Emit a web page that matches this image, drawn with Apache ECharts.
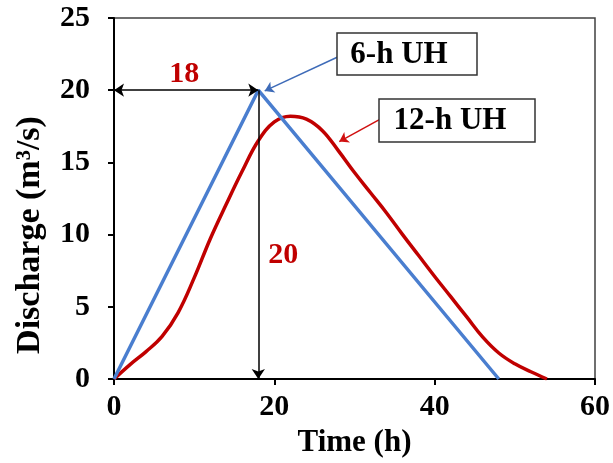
<!DOCTYPE html>
<html>

<head>
  <meta charset="utf-8" />
  <title>Unit hydrographs</title>
  <style>
    body { margin: 0; background-color: #ffffff; }
  </style>
  <script src="https://cdn.jsdelivr.net/npm/echarts@6/dist/echarts.min.js"></script>
</head>

<body>
  <div id="main" style="width: 613px;height:463px;"></div>
  <script type="text/javascript">
    // data (time in h, discharge in m3/s)
    var uh6 = [[0, 0], [18, 20], [48, 0]];
    var uh12 = [
      [0, 0], [2, 1.0], [4, 1.9], [6, 2.95], [8, 4.6], [10, 7.0], [12, 9.7],
      [14, 12.1], [16, 14.4], [18, 16.5], [20, 17.8], [22, 18.2], [24, 18.0],
      [26, 17.2], [28, 15.8], [30, 14.3], [32, 12.9], [34, 11.5], [36, 10.0],
      [38, 8.55], [40, 7.1], [42, 5.7], [44, 4.3], [46, 2.9], [48, 1.8],
      [50, 1.05], [52, 0.5], [54, 0]
    ];
    var xTicks = [0, 20, 40, 60];
    var yTicks = [0, 5, 10, 15, 20, 25];

    // annotation geometry (data space)
    var peakTime = 18, peakQ = 20;
    var arrow6 = [[27.9, 22.3], [18.8, 19.95]];
    var arrow12 = [[33.1, 17.96], [28.1, 16.44]];
    var label18 = [8.75, 21.1];
    var label20 = [21.1, 8.56];

    var font = 'Liberation Serif';
    var red = '#C00000';
    var blue = '#4A7ECF';

    var myChart = echarts.init(document.getElementById('main'));

    var option = {
      animation: false,
      grid: {
        left: 114, right: 18, top: 18, bottom: 83,
        show: true, borderColor: '#404040', borderWidth: 1.5
      },
      xAxis: {
        type: 'value',
        min: xTicks[0], max: xTicks[xTicks.length - 1], interval: 20,
        name: 'Time (h)', nameLocation: 'middle', nameGap: 48,
        nameTextStyle: { fontFamily: font, fontWeight: 'bold', fontSize: 31, color: '#000' },
        axisLine: { lineStyle: { color: '#000', width: 2 } },
        axisTick: { show: true, length: 6, lineStyle: { color: '#000', width: 2 } },
        axisLabel: { margin: 13, fontFamily: font, fontWeight: 'bold', fontSize: 30, color: '#000' },
        splitLine: { show: false }
      },
      yAxis: {
        type: 'value',
        min: yTicks[0], max: yTicks[yTicks.length - 1], interval: 5,
        axisLine: { show: true, lineStyle: { color: '#000', width: 2 } },
        axisTick: { show: true, length: 6, lineStyle: { color: '#000', width: 2 } },
        axisLabel: { margin: 24, fontFamily: font, fontWeight: 'bold', fontSize: 30, color: '#000' },
        splitLine: { show: false }
      },
      series: [{
        name: '6-h UH',
        type: 'line',
        data: uh6,
        showSymbol: false,
        lineStyle: { color: blue, width: 3.5 },
        z: 3,
        markLine: {
          silent: true,
          animation: false,
          label: { show: false },
          symbolSize: 10,
          data: [
            [{ coord: [0, peakQ], symbol: 'arrow' }, { coord: [peakTime, peakQ], symbol: 'arrow' }],
            [{ coord: [peakTime, peakQ], symbol: 'none' }, { coord: [peakTime, 0], symbol: 'arrow' }],
            [{ coord: arrow6[0], symbol: 'none', lineStyle: { color: '#3E6BB8', width: 1.5 } },
             { coord: arrow6[1], symbol: 'arrow', symbolSize: 9 }]
          ],
          lineStyle: { color: '#000', width: 1.5, type: 'solid' }
        },
        markPoint: {
          silent: true,
          symbolSize: 0,
          data: [
            { coord: label18, value: '18' },
            { coord: label20, value: '20' }
          ],
          label: {
            show: true, position: 'inside', color: red,
            fontFamily: font, fontWeight: 'bold', fontSize: 30,
            formatter: function (p) { return p.value; }
          }
        }
      }, {
        name: '12-h UH',
        type: 'line',
        data: uh12,
        smooth: 0.4,
        showSymbol: false,
        lineStyle: { color: red, width: 3.5 },
        z: 2,
        markLine: {
          silent: true,
          animation: false,
          label: { show: false },
          symbolSize: 9,
          data: [
            [{ coord: arrow12[0], symbol: 'none' }, { coord: arrow12[1], symbol: 'arrow' }]
          ],
          lineStyle: { color: '#D01010', width: 1.5, type: 'solid' }
        }
      }],
      graphic: [
        {
          type: 'text', x: 30, y: 235, rotation: Math.PI / 2,
          style: {
            text: 'Discharge (m³/s)', fontFamily: font, fontWeight: 'bold', fontSize: 34,
            fill: '#000', align: 'center', verticalAlign: 'middle'
          }
        },
        {
          type: 'rect', shape: { x: 337, y: 33, width: 140, height: 42 },
          style: { fill: '#fff', stroke: '#333', lineWidth: 1.5 }, z: 10
        },
        {
          type: 'text', x: 399, y: 55, z: 11,
          style: {
            text: '6-h UH', fontFamily: font, fontWeight: 'bold', fontSize: 31,
            fill: '#000', align: 'center', verticalAlign: 'middle'
          }
        },
        {
          type: 'rect', shape: { x: 379, y: 99, width: 156, height: 43 },
          style: { fill: '#fff', stroke: '#333', lineWidth: 1.5 }, z: 10
        },
        {
          type: 'text', x: 450, y: 121, z: 11,
          style: {
            text: '12-h UH', fontFamily: font, fontWeight: 'bold', fontSize: 31,
            fill: '#000', align: 'center', verticalAlign: 'middle'
          }
        }
      ]
    };
    myChart.setOption(option);
  </script>
</body>

</html>
